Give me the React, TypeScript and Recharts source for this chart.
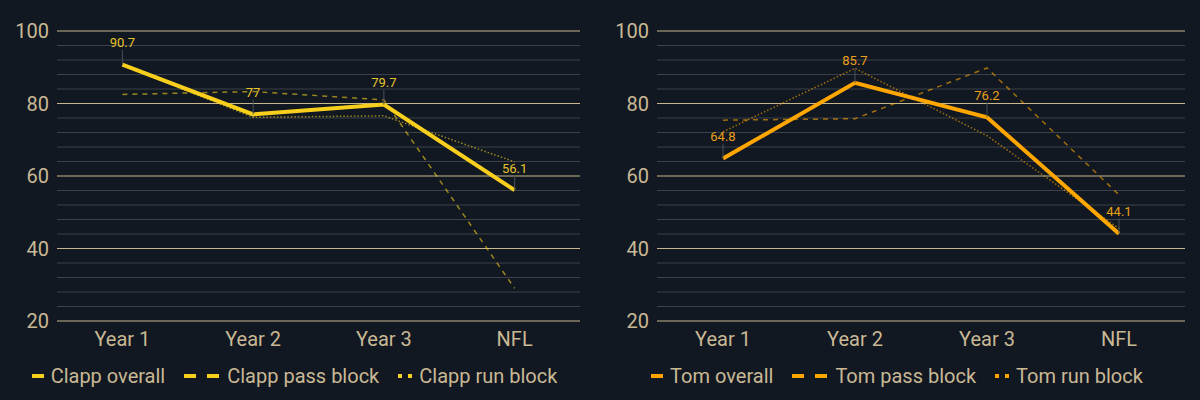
import { CartesianGrid, Line, LineChart, ReferenceLine, XAxis, YAxis, Legend } from "recharts";

const years = ["Year 1", "Year 2", "Year 3", "NFL"];
const yTicks = [20, 40, 60, 80, 100];
const minorTicks = [24, 28, 32, 36, 44, 48, 52, 56, 64, 68, 72, 76, 84, 88, 92, 96];

const clappOverall = [90.7, 77, 79.7, 56.1];
const clappPass = [82.5, 83.3, 81, 29];
const clappRun = [90.6, 76.2, 76.6, 63.9];

const tomOverall = [64.8, 85.7, 76.2, 44.1];
const tomPass = [75.4, 75.8, 89.8, 54.8];
const tomRun = [72.2, 89.7, 71.1, 45.5];

const BG = "#111821";
const TEXT = "#c9b895";
const FONT = "Roboto, 'Noto Sans', sans-serif";

type ChartProps = {
  name: string;
  color: string;
  labelColor: string;
  overall: number[];
  pass: number[];
  run: number[];
  right: number;
};

function PointLabel(props: any) {
  const { x, y, value, textColor } = props;
  if (x == null || y == null) return null;
  return (
    <g>
      <line x1={x} y1={y} x2={x} y2={y - 15} stroke="#4a4f57" strokeWidth={1} />
      <text x={x} y={y - 21} textAnchor="middle" dominantBaseline="middle" fontSize={13} fill={textColor} fontFamily={FONT}>
        {value}
      </text>
    </g>
  );
}

function LegendIcon({ kind, color }: { kind: string; color: string }) {
  if (kind === "solid") {
    return (
      <svg width={14} height={6}>
        <rect x={1} y={1} width={12} height={4} fill={color} />
      </svg>
    );
  }
  if (kind === "dashed") {
    return (
      <svg width={38} height={6}>
        <rect x={1} y={1} width={12} height={4} fill={color} />
        <rect x={24} y={1} width={12} height={4} fill={color} />
      </svg>
    );
  }
  return (
    <svg width={16} height={6}>
      <rect x={1} y={1} width={4} height={4} fill={color} />
      <rect x={11} y={1} width={4} height={4} fill={color} />
    </svg>
  );
}

function PlayerChart({ name, color, labelColor, overall, pass, run, right }: ChartProps) {
  const data = years.map((year, i) => ({
    year,
    overall: overall[i],
    pass: pass[i],
    run: run[i],
  }));

  const items = [
    { kind: "solid", label: `${name} overall` },
    { kind: "dashed", label: `${name} pass block` },
    { kind: "dotted", label: `${name} run block` },
  ];

  return (
    <LineChart width={600} height={400} data={data} margin={{ top: 31, right, left: 0, bottom: 0 }}>
      <CartesianGrid vertical={false} stroke="#c8b88e" />
      {minorTicks.map((t) => (
        <ReferenceLine key={t} y={t} stroke="#3c4149" strokeWidth={1} />
      ))}
      <XAxis
        dataKey="year"
        scale="band"
        axisLine={false}
        tickLine={false}
        tickMargin={5}
        height={30}
        tick={{ fill: TEXT, fontSize: 20, fontFamily: FONT }}
      />
      <YAxis
        domain={[20, 100]}
        ticks={yTicks}
        width={57}
        axisLine={false}
        tickLine={false}
        tick={{ fill: TEXT, fontSize: 20, fontFamily: FONT }}
      />
      <Legend
        verticalAlign="bottom"
        height={49}
        content={() => (
          <div
            style={{
              height: 49,
              display: "flex",
              alignItems: "center",
              justifyContent: "center",
              gap: 18,
              fontFamily: FONT,
              fontSize: 20,
              color: TEXT,
              paddingLeft: 8,
            }}
          >
            {items.map((it) => (
              <div key={it.label} style={{ display: "flex", alignItems: "center", gap: 6 }}>
                <LegendIcon kind={it.kind} color={color} />
                <span>{it.label}</span>
              </div>
            ))}
          </div>
        )}
      />
      <Line
        type="linear"
        dataKey="pass"
        stroke={color}
        strokeOpacity={0.6}
        strokeWidth={1.5}
        strokeDasharray="5 5"
        dot={false}
        activeDot={false}
        isAnimationActive={false}
      />
      <Line
        type="linear"
        dataKey="run"
        stroke={color}
        strokeOpacity={0.6}
        strokeWidth={1.5}
        strokeDasharray="1.5 2"
        dot={false}
        activeDot={false}
        isAnimationActive={false}
      />
      <Line
        type="linear"
        dataKey="overall"
        stroke={color}
        strokeWidth={4}
        dot={false}
        activeDot={false}
        isAnimationActive={false}
        label={<PointLabel textColor={labelColor} />}
      />
    </LineChart>
  );
}

export default function App() {
  return (
    <div
      style={{
        position: "absolute",
        left: 0,
        top: 0,
        width: 1200,
        height: 400,
        background: BG,
        display: "flex",
      }}
    >
      <PlayerChart
        name="Clapp"
        color="#f7cf1c"
        labelColor="#e8c42a"
        overall={clappOverall}
        pass={clappPass}
        run={clappRun}
        right={20}
      />
      <PlayerChart
        name="Tom"
        color="#ffa700"
        labelColor="#eaa01a"
        overall={tomOverall}
        pass={tomPass}
        run={tomRun}
        right={15}
      />
    </div>
  );
}
